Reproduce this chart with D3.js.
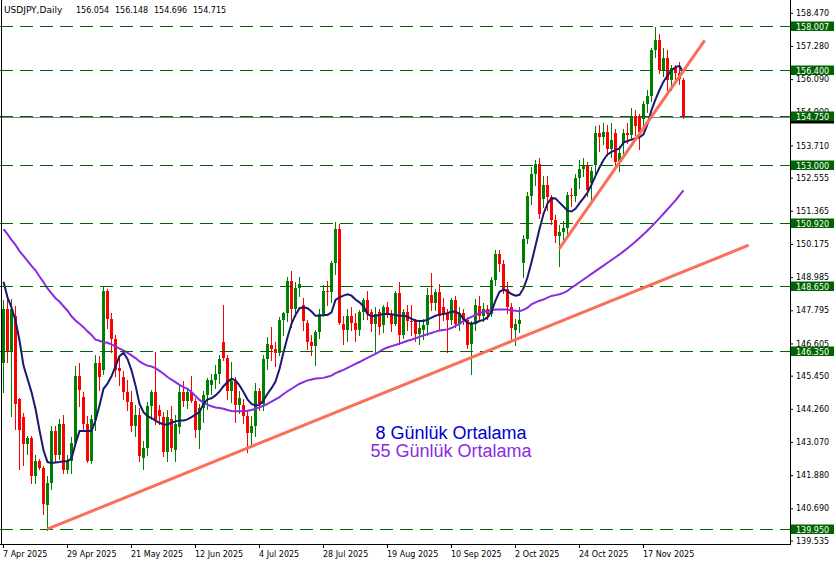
<!DOCTYPE html>
<html><head><meta charset="utf-8">
<script src="https://cdn.jsdelivr.net/npm/d3@7"></script>
<style>
html,body{margin:0;padding:0;background:#fff;}
svg{display:block;}
</style></head><body>
<svg id="chart" width="836" height="565"></svg>
<script>
// ---- data (daily USDJPY, bar 0 = 7 Apr 2025) ----
const opens = [145.90,147.85,146.30,147.60,144.60,143.95,143.00,143.20,141.85,142.40,142.15,140.80,141.60,143.45,142.60,143.70,142.05,142.40,143.05,145.45,
144.70,143.70,142.40,143.85,145.90,145.65,148.50,147.50,146.75,145.72,145.40,144.85,144.50,143.65,144.05,142.50,142.85,144.35,144.85,144.20,
143.95,142.70,143.90,142.80,143.60,144.85,144.55,144.85,144.55,143.50,144.30,144.75,145.10,145.30,145.50,146.65,146.10,144.90,145.25,144.40,
144.40,144.00,143.40,143.65,144.90,144.45,146.05,146.55,146.40,146.25,147.45,147.70,148.85,147.85,148.60,148.00,147.35,146.65,146.50,147.00,
147.65,148.50,148.45,149.50,150.70,147.30,147.10,147.60,147.35,147.10,147.75,148.15,147.75,147.30,147.75,147.25,147.90,147.65,147.30,148.40,
146.90,147.75,147.42,147.40,146.95,147.10,147.25,148.35,148.05,148.45,147.90,147.65,147.45,148.15,147.30,147.70,147.45,146.60,147.30,147.95,
147.60,147.85,147.65,148.90,149.80,149.45,148.55,147.90,147.10,147.30,149.50,150.35,151.90,152.70,153.05,151.80,152.30,151.85,151.05,150.45,
150.60,150.75,151.95,151.90,152.55,152.85,153.00,152.35,153.00,154.15,154.00,154.20,153.60,154.15,153.15,153.80,154.15,154.10,154.75,154.75,
154.65,155.20,155.50,157.15,157.50,156.40,156.85,156.05,156.50,156.30,156.054];
const highs = [148.15,148.25,148.20,147.95,144.65,144.10,143.30,143.30,142.60,142.45,142.20,141.85,143.65,143.65,143.90,144.05,142.60,143.25,145.80,145.90,
144.85,144.00,144.05,146.20,146.15,148.65,148.55,147.70,146.90,146.15,145.60,145.30,144.90,144.40,144.30,143.10,144.50,144.95,146.30,144.40,
144.15,144.20,144.35,144.05,145.10,145.25,145.00,145.45,144.65,144.45,144.90,145.35,145.50,145.85,146.20,148.00,146.20,145.95,145.40,144.90,
144.60,144.20,144.00,145.20,145.00,146.20,146.85,147.20,146.65,147.55,147.75,149.00,149.20,148.80,149.00,148.25,147.45,146.90,147.10,147.85,
148.70,148.85,149.55,150.95,150.90,147.60,147.85,147.90,147.70,147.80,148.25,148.50,147.85,147.90,147.85,148.00,148.10,147.80,148.50,148.80,
147.85,148.00,148.00,147.50,147.40,147.50,148.60,149.15,148.55,148.75,148.25,147.85,148.25,148.30,147.90,147.85,147.55,147.40,148.20,148.30,
148.05,148.00,149.00,149.95,149.95,149.60,148.80,148.05,147.50,147.90,150.50,152.05,152.95,153.20,153.25,152.60,152.60,151.95,151.20,150.85,
151.00,152.05,152.20,152.70,153.20,153.25,153.10,152.95,154.40,154.45,154.50,154.45,154.50,154.30,153.70,154.30,154.50,155.05,155.00,154.85,
155.30,155.70,157.20,157.95,157.70,157.20,157.15,156.60,156.60,156.70,156.148];
const lows = [144.85,145.95,144.00,143.55,142.10,142.25,142.65,141.60,141.60,142.10,140.50,139.90,141.40,142.35,142.45,141.95,141.95,141.95,142.95,144.35,
143.55,142.35,142.30,143.50,144.95,145.50,147.15,146.30,145.45,145.10,144.60,144.20,143.45,143.30,142.40,142.10,142.60,143.90,143.70,143.70,
142.55,142.40,142.75,142.40,143.40,144.35,144.30,144.50,143.25,142.85,143.80,144.25,144.80,145.00,145.20,146.00,144.60,144.50,143.80,144.10,
143.75,142.70,142.90,143.30,144.20,144.20,145.70,146.00,145.80,146.20,146.90,147.40,147.20,147.60,148.30,147.10,146.40,146.20,145.85,146.80,
147.60,148.00,148.10,149.10,147.30,146.60,146.70,147.10,146.70,146.90,147.50,147.50,147.05,146.25,146.95,147.00,147.55,147.05,147.25,146.60,
146.80,147.10,146.90,146.70,146.60,146.75,146.90,147.80,147.80,147.10,147.45,146.30,147.30,147.20,147.10,147.30,146.45,145.50,147.10,147.45,
147.40,147.50,147.60,148.70,149.20,148.40,147.70,146.75,146.55,147.00,149.00,150.20,151.60,152.30,151.10,151.50,151.40,150.90,150.25,149.40,
150.30,150.55,151.55,151.70,152.20,152.60,151.90,151.75,152.60,153.50,153.75,153.35,153.30,152.95,152.80,153.40,153.80,153.95,154.10,153.60,
154.35,154.90,155.30,156.90,156.30,156.20,155.70,155.70,156.10,155.90,154.696];
const closes = [147.85,146.30,147.85,144.45,143.50,143.00,143.20,141.85,142.40,142.15,140.85,141.60,143.45,142.60,143.70,142.05,142.40,143.05,145.45,144.95,
143.70,142.40,143.90,145.90,145.40,148.50,147.50,146.75,145.65,145.62,144.85,144.50,143.65,144.05,142.55,142.85,144.35,144.85,143.85,144.00,
142.70,143.95,142.85,143.70,144.85,144.55,144.85,144.55,143.50,144.30,144.75,145.30,145.30,145.50,146.05,146.10,144.90,145.25,144.40,144.65,
144.00,143.40,143.65,144.90,144.45,146.05,146.60,146.40,146.25,147.45,147.70,148.85,147.85,148.60,148.75,147.40,146.65,146.50,147.00,147.65,
148.50,148.45,149.50,150.70,147.35,147.10,147.60,147.35,147.10,147.75,148.15,147.65,147.30,147.65,147.20,147.90,147.65,147.30,148.40,146.90,
147.75,147.40,147.38,146.95,147.15,147.25,148.35,148.05,148.45,147.60,147.65,147.45,148.15,147.30,147.70,147.45,146.55,147.30,148.00,147.60,
147.85,147.65,148.90,149.80,149.45,148.55,147.90,147.15,147.30,147.45,150.35,151.90,152.70,153.05,151.25,152.30,151.85,151.05,150.45,150.60,
150.75,151.95,151.90,152.55,152.85,153.00,152.10,152.80,154.15,154.00,154.20,153.60,153.90,153.10,153.45,154.15,154.10,154.75,154.40,154.20,
155.20,155.50,157.15,157.50,156.40,156.85,156.05,156.50,156.30,156.10,154.715];
const ma8 = [148.82,148.26,147.90,147.43,146.71,145.81,145.34,144.86,144.26,143.49,142.77,142.35,142.32,142.33,142.35,142.38,142.39,142.47,143.01,143.46,
143.46,143.46,143.46,143.84,144.38,144.98,145.16,145.43,145.78,146.15,146.27,146.05,145.64,145.10,144.44,144.14,144.00,143.93,143.84,143.76,
143.70,143.70,143.76,143.81,143.84,143.84,143.88,143.96,144.05,144.14,144.44,144.60,144.64,144.74,144.88,145.07,145.22,145.34,145.28,145.10,
144.86,144.60,144.44,144.38,144.40,144.56,144.80,145.00,145.24,145.69,146.29,146.83,147.31,147.63,147.87,147.90,147.87,147.75,147.60,147.60,
147.63,147.63,147.72,148.17,148.26,148.32,148.37,148.32,148.18,148.08,147.94,147.66,147.58,147.60,147.63,147.66,147.66,147.65,147.63,147.60,
147.60,147.57,147.49,147.43,147.41,147.41,147.46,147.53,147.60,147.64,147.66,147.69,147.75,147.74,147.67,147.49,147.34,147.31,147.34,147.41,
147.45,147.54,147.75,148.14,148.46,148.54,148.48,148.38,148.32,148.35,148.58,148.98,149.52,150.11,150.71,151.25,151.63,151.82,151.81,151.66,
151.52,151.37,151.34,151.44,151.64,151.82,152.02,152.30,152.62,152.92,153.19,153.39,153.48,153.54,153.60,153.81,153.87,153.92,153.96,154.00,
154.11,154.47,154.98,155.36,155.70,156.00,156.22,156.40,156.52,156.56,156.32];
const ma55 = [150.71,150.53,150.32,150.14,149.92,149.75,149.57,149.39,149.23,149.01,148.80,148.58,148.40,148.23,148.11,147.94,147.78,147.58,147.43,147.31,
147.19,147.04,146.91,146.74,146.70,146.65,146.63,146.57,146.50,146.42,146.36,146.27,146.18,146.08,145.96,145.87,145.81,145.78,145.72,145.62,
145.52,145.40,145.31,145.22,145.12,145.04,144.98,144.86,144.72,144.58,144.48,144.41,144.35,144.31,144.29,144.26,144.22,144.18,144.17,144.17,
144.18,144.19,144.22,144.26,144.31,144.37,144.44,144.52,144.60,144.68,144.79,144.89,144.98,145.07,145.16,145.22,145.28,145.31,145.35,145.36,
145.37,145.41,145.45,145.54,145.60,145.66,145.73,145.80,145.87,145.94,146.02,146.09,146.16,146.23,146.31,146.40,146.46,146.51,146.55,146.60,
146.65,146.70,146.74,146.79,146.84,146.89,146.94,146.98,147.03,147.07,147.09,147.11,147.16,147.24,147.31,147.42,147.49,147.56,147.63,147.69,
147.74,147.77,147.80,147.82,147.82,147.82,147.82,147.80,147.78,147.76,147.81,147.89,148.01,148.08,148.14,148.18,148.25,148.31,148.34,148.37,
148.42,148.49,148.61,148.70,148.80,148.90,149.00,149.10,149.20,149.30,149.40,149.50,149.60,149.70,149.80,149.91,150.02,150.14,150.26,150.39,
150.52,150.66,150.80,150.95,151.10,151.26,151.42,151.58,151.74,151.92,152.10];
const priceTicks = [158.470,157.280,156.090,154.900,153.710,152.555,151.365,150.175,148.985,147.795,146.605,145.450,144.260,143.070,141.880,140.690,139.535];
const dateTickBars = [0,16,32,48,64,80,96,112,128,144,160];
const dateTickLabels = ["7 Apr 2025","29 Apr 2025","21 May 2025","12 Jun 2025","4 Jul 2025","28 Jul 2025","19 Aug 2025","10 Sep 2025","2 Oct 2025","24 Oct 2025","17 Nov 2025"];
const levelLines = [158.007,156.400,154.750,153.000,150.920,148.650,146.350,139.950];
const trendLines = [[[10.9,139.94],[186.3,150.13]],[[138.9,150.00],[175.3,157.48]]];
const headerSymbol = "USDJPY,Daily";
const headerValues = ["156.054","156.148","154.696","154.715"];
const bidPrice = 154.715;
const legendLabels = ["8 Günlük Ortalama","55 Günlük Ortalama"];

// ---- layout ----
const plotR = 790, plotB = 544;
const UI = "DejaVu Sans, sans-serif";
const ARIAL = "Liberation Sans, Arial, sans-serif";
const svg = d3.select("#chart");
const x = d3.scaleLinear().domain([0,196.75]).range([3,790]);
const y = d3.scaleLinear().domain([139.535,158.470]).range([540.5,12.8]);
const green = "#008000", red = "#ff0000", lvl = "#006400";

svg.append("defs").append("clipPath").attr("id","plot")
  .append("rect").attr("x",0).attr("y",0).attr("width",plotR).attr("height",plotB);
const plot = svg.append("g").attr("clip-path","url(#plot)");

// bid line
plot.append("line").attr("x1",0).attr("x2",plotR)
  .attr("y1",Math.round(y(bidPrice))+0.5).attr("y2",Math.round(y(bidPrice))+0.5)
  .attr("stroke","#808080").attr("stroke-width",1);

// candles
const idx = d3.range(closes.length);
const cg = plot.append("g").attr("shape-rendering","crispEdges");
cg.selectAll("line.w").data(idx).join("line").attr("class","w")
  .attr("x1",i=>Math.round(x(i))+0.5).attr("x2",i=>Math.round(x(i))+0.5)
  .attr("y1",i=>Math.round(y(highs[i]))).attr("y2",i=>Math.round(y(lows[i]))+1)
  .attr("stroke",i=>closes[i]>=opens[i]?green:red).attr("stroke-width",1);
cg.selectAll("rect.b").data(idx).join("rect").attr("class","b")
  .attr("x",i=>Math.round(x(i))-1).attr("width",3)
  .attr("y",i=>Math.round(y(Math.max(opens[i],closes[i]))))
  .attr("height",i=>Math.max(1,Math.round(y(Math.min(opens[i],closes[i])))-Math.round(y(Math.max(opens[i],closes[i])))))
  .attr("fill",i=>closes[i]>=opens[i]?green:red);

// moving averages
const line = d3.line().x((d,i)=>x(i)+0.5).y(d=>y(d));
plot.append("path").datum(ma55).attr("d",line).attr("fill","none").attr("stroke","#8a2be2").attr("stroke-width",2);
plot.append("path").datum(ma8).attr("d",line).attr("fill","none").attr("stroke","#191970").attr("stroke-width",2);

// horizontal level lines
plot.selectAll("line.lv").data(levelLines).join("line").attr("class","lv")
  .attr("x1",0).attr("x2",plotR)
  .attr("y1",d=>Math.round(y(d))+0.5).attr("y2",d=>Math.round(y(d))+0.5)
  .attr("stroke",lvl).attr("stroke-width",1).attr("stroke-dasharray","13,7")
  .attr("shape-rendering","crispEdges");

// trend lines
plot.selectAll("line.tr").data(trendLines).join("line").attr("class","tr")
  .attr("x1",d=>x(d[0][0])+0.5).attr("y1",d=>y(d[0][1]))
  .attr("x2",d=>x(d[1][0])+0.5).attr("y2",d=>y(d[1][1]))
  .attr("stroke","#fa6e5a").attr("stroke-width",3);

// frame
svg.append("line").attr("x1",1.5).attr("x2",1.5).attr("y1",0).attr("y2",plotB).attr("stroke","#000");

// right axis
const ra = svg.append("g").attr("transform",`translate(${plotR},0)`)
  .call(d3.axisRight(y).tickValues(priceTicks).tickSize(3).tickFormat(d3.format(".3f")));
ra.select(".domain").remove();
ra.selectAll("line").attr("stroke","#000");
ra.selectAll("text").attr("x",6).style("font-size","8px").style("font-family",UI).attr("fill","#000");

// bottom axis
const ba = svg.append("g").attr("transform",`translate(0,${plotB})`)
  .call(d3.axisBottom(x).tickValues(dateTickBars).tickSize(4).tickFormat((d,i)=>dateTickLabels[i]));
ba.select(".domain").remove();
ba.selectAll("line").attr("stroke","#000");
ba.selectAll("text").attr("y",13).attr("dy",0).attr("x",-0.5).attr("text-anchor","start")
  .style("font-size","8px").style("font-family",UI).attr("fill","#000");

svg.append("line").attr("x1",0).attr("x2",plotR+1).attr("y1",plotB+0.5).attr("y2",plotB+0.5).attr("stroke","#000");
svg.append("line").attr("x1",plotR+0.5).attr("x2",plotR+0.5).attr("y1",0).attr("y2",plotB+1).attr("stroke","#000");

// price labels of level lines
const by = Math.round(y(bidPrice))+0.5;
svg.append("rect").attr("x",791).attr("y",by-5).attr("width",43).attr("height",11).attr("fill","#000");
const lg = svg.append("g");
levelLines.forEach(p=>{
  const ly = Math.round(y(p))+0.5;
  lg.append("rect").attr("x",791).attr("y",ly-5).attr("width",43).attr("height",9.5).attr("fill",lvl);
  lg.append("text").attr("x",796).attr("y",ly+3).style("font-size","8px").style("font-family",UI)
    .attr("fill","#fff").text(d3.format(".3f")(p));
});

// header
svg.append("text").attr("x",4).attr("y",13).style("font-size","9px").style("font-family",UI).attr("fill","#000").text(headerSymbol);
const hx = [76,115,154,193];
headerValues.forEach((v,i)=>svg.append("text").attr("x",hx[i]).attr("y",13)
  .style("font-size","8px").style("font-family",UI).attr("fill","#000").text(v));

// legend
svg.append("text").attr("x",451).attr("y",439).attr("text-anchor","middle")
  .style("font-family",ARIAL).style("font-size","18px").attr("fill","#0000cd").text(legendLabels[0]);
svg.append("text").attr("x",451).attr("y",456.5).attr("text-anchor","middle")
  .style("font-family",ARIAL).style("font-size","18px").attr("fill","#8a2be2").text(legendLabels[1]);
</script>
</body></html>
